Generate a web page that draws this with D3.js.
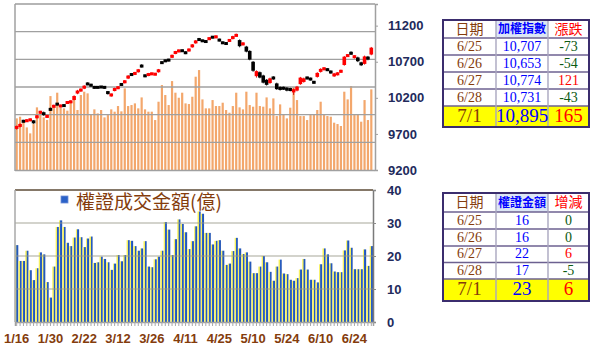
<!DOCTYPE html>
<html>
<head>
<meta charset="utf-8">
<script src="https://cdn.jsdelivr.net/npm/d3@7/dist/d3.min.js"></script>
<style>
  body { margin: 0; background: #fff; }
  svg { display: block; }
</style>
</head>
<body>
<svg id="chart" width="598" height="351"></svg>
<script>
// trading days 1/16 - 7/1
const dates = [
  '1/16','1/17','1/18','1/21','1/22','1/23','1/24','1/25','1/28','1/29','1/30',
  '2/11','2/12','2/13','2/14','2/15','2/18','2/19','2/20','2/21','2/22','2/25','2/26','2/27',
  '3/4','3/5','3/6','3/7','3/8','3/11','3/12','3/13','3/14','3/15','3/18','3/19','3/20','3/21','3/22','3/25','3/26','3/27','3/28','3/29',
  '4/1','4/2','4/3','4/8','4/9','4/10','4/11','4/12','4/15','4/16','4/17','4/18','4/19','4/22','4/23','4/24','4/25','4/26','4/29','4/30',
  '5/2','5/3','5/6','5/7','5/8','5/9','5/10','5/13','5/14','5/15','5/16','5/17','5/20','5/21','5/22','5/23','5/24','5/27','5/28','5/29','5/30','5/31',
  '6/3','6/4','6/5','6/6','6/10','6/11','6/12','6/13','6/14','6/17','6/18','6/19','6/20','6/21','6/24','6/25','6/26','6/27','6/28',
  '7/1'
];
const tickLabels = ['1/16','1/30','2/22','3/12','3/26','4/11','4/25','5/10','5/24','6/10','6/24'];

// TAIEX candles
const opens = [
  9775,9800,9880,9870,9890,9880,9925,9990,10000,9935,
  10050,10070,10120,10080,10100,10125,10135,10170,10260,10295,
  10330,10400,10385,10355,10350,10355,10350,10285,10230,10300,
  10330,10395,10410,10470,10530,10525,10560,10650,10515,10510,
  10525,10520,10560,10695,10720,10730,10760,10815,10840,10860,
  10835,10850,10905,10960,11015,10995,10990,11010,11045,11035,
  11010,10970,10960,10985,11020,11055,11000,10935,10910,10850,
  10700,10500,10555,10510,10450,10405,10490,10400,10350,10345,
  10340,10330,10275,10300,10390,10420,10485,10470,10425,10490,
  10560,10590,10600,10570,10500,10520,10555,10655,10775,10830,
  10760,10760,10690,10670,10770,10800
];
const highs = [
  9815,9845,9895,9905,9915,9890,9960,10020,10010,9965,
  10065,10105,10130,10105,10110,10155,10165,10235,10310,10330,
  10375,10415,10395,10365,10360,10365,10360,10295,10260,10340,
  10360,10405,10445,10515,10540,10560,10600,10665,10525,10545,
  10550,10545,10600,10705,10730,10740,10800,10850,10870,10870,
  10845,10885,10945,11000,11030,11005,11000,11040,11055,11065,
  11020,10980,10970,11015,11060,11090,11010,10970,10920,10860,
  10710,10580,10565,10520,10460,10480,10500,10410,10360,10355,
  10350,10340,10330,10365,10490,10480,10495,10480,10435,10555,
  10610,10625,10610,10580,10545,10555,10590,10780,10805,10845,
  10790,10770,10700,10785,10780,10905
];
const lows = [
  9760,9790,9860,9865,9875,9840,9915,9980,9950,9925,
  10020,10060,10095,10070,10075,10115,10125,10165,10250,10285,
  10320,10375,10355,10325,10330,10335,10325,10245,10215,10290,
  10320,10365,10400,10460,10505,10515,10550,10620,10485,10500,
  10515,10510,10550,10670,10695,10705,10750,10805,10830,10835,
  10805,10840,10895,10950,10990,10975,10960,11000,11025,11025,
  10980,10945,10935,10975,11010,11045,10900,10925,10830,10720,
  10560,10480,10470,10400,10370,10395,10450,10310,10300,10310,
  10290,10290,10240,10290,10380,10410,10455,10440,10395,10480,
  10550,10580,10570,10535,10490,10510,10545,10645,10765,10795,
  10745,10695,10640,10660,10720,10790
];
const closes = [
  9805,9835,9870,9895,9900,9855,9950,10010,9960,9950,
  10030,10095,10105,10095,10085,10145,10155,10225,10300,10320,
  10365,10385,10365,10335,10340,10345,10340,10260,10250,10330,
  10350,10375,10435,10505,10515,10550,10590,10630,10495,10535,
  10540,10535,10590,10680,10705,10715,10790,10840,10860,10845,
  10815,10875,10935,10990,11000,10985,10970,11030,11035,11055,
  10990,10955,10945,11005,11050,11075,10915,10960,10840,10730,
  10575,10570,10480,10410,10380,10470,10460,10320,10310,10320,
  10300,10300,10320,10355,10480,10470,10465,10450,10405,10545,
  10600,10615,10580,10545,10535,10545,10580,10770,10795,10805,
  10780,10707,10653,10774,10731,10895
];

// market turnover (left hidden axis)
const turnover = [
  933,963,903,770,662,830,1132,1023,951,903,
  1336,1132,1397,1132,1114,1072,1234,1264,1084,1355,
  1415,1385,1011,1096,1023,1084,951,993,1096,1054,
  1156,1060,1475,1156,1174,1204,1114,1312,1096,1054,
  1054,903,1234,1535,1355,1174,1607,1397,1306,1397,
  1204,1192,1324,1686,1806,1276,1114,1114,1264,1156,
  1156,1216,1084,1035,1156,1397,1132,1096,1415,1174,
  1144,1397,1156,1144,1312,1114,1294,975,1186,1011,
  933,1126,1500,1264,975,975,903,993,993,1084,
  1234,993,975,963,855,831,795,1415,1276,1517,
  993,1005,873,1264,903,1457
];

// warrant turnover (億)
const warrant = [
  23.3,18.5,18.5,21.6,15.7,12.7,16.3,21.1,20.5,12.1,
  7.4,16.8,28.8,30.8,28.8,24.0,23.0,25.6,28.1,25.7,
  22.7,25.3,25.9,17.9,18.1,19.8,19.1,18.1,15.8,17.7,
  20.3,18.4,20.3,24.8,24.6,23.0,21.6,22.3,24.5,16.8,
  16.6,19.0,19.8,21.6,30.3,28.0,20.3,25.1,31.1,29.7,
  27.2,22.1,24.5,29.0,33.5,32.8,27.0,27.0,23.5,24.6,
  24.8,21.6,17.3,17.7,21.5,25.5,22.3,20.6,21.1,18.3,
  14.8,14.8,16.8,20.0,18.1,15.2,12.5,16.8,18.9,14.7,
  14.5,12.8,12.5,13.3,15.9,19.1,15.9,12.8,12.8,12.0,
  17.5,22.3,20.5,17.8,15.3,15.1,15.1,21.7,24.7,22.5,
  16,16,16,22,17,23
];

const priceTicks = [9200, 9700, 10200, 10700, 11200];
const turnoverGrid = [500, 1000, 1500, 2000, 2500];
const warrantTicks = [0, 10, 20, 30, 40];

// tables
const tblDates = ['6/25', '6/26', '6/27', '6/28', '7/1'];
const idxValues = [10707, 10653, 10774, 10731, 10895];
const idxChanges = [-73, -54, 121, -43, 165];
const warValues = [16, 16, 22, 17, 23];
const warChanges = [0, 0, 6, -5, 6];

const NAVY = '#222a5c';
const BROWN = '#843c0c';
const GRID = '#a0a0a0';
const LABEL_FONT = '"Liberation Sans", Arial, sans-serif';
const CJK_FONT = '"Noto Sans CJK TC", "Noto Sans CJK SC", sans-serif';
const SERIF = '"Liberation Serif", "Times New Roman", serif';

const svg = d3.select('#chart');

const x = d3.scaleBand().domain(dates).range([15, 373]).padding(0);
const bw = x.bandwidth();
const cx = d => x(d) + bw / 2;

const yPrice = d3.scaleLinear().domain([9200, 11500]).range([170, 4]);
const yVol = d3.scaleLinear().domain([0, 3000]).range([170, 4]);
const yWar = d3.scaleLinear().domain([0, 40]).range([322, 190]);

// gradient for warrant bars
const defs = svg.append('defs');
const grad = defs.append('linearGradient').attr('id', 'warGrad')
  .attr('x1', '0%').attr('x2', '100%').attr('y1', '0%').attr('y2', '0%');
grad.append('stop').attr('offset', '0%').attr('stop-color', '#fbf36a');
grad.append('stop').attr('offset', '38%').attr('stop-color', '#f2ee5a');
grad.append('stop').attr('offset', '46%').attr('stop-color', '#2b62c8');
grad.append('stop').attr('offset', '100%').attr('stop-color', '#1d4fb0');

// ---------- upper panel ----------
const upper = svg.append('g');

upper.selectAll('.vol')
  .data(dates)
  .enter().append('rect')
  .attr('class', 'vol')
  .attr('x', d => cx(d) - 1.1)
  .attr('width', 2.2)
  .attr('y', (d, i) => yVol(turnover[i]))
  .attr('height', (d, i) => yVol(0) - yVol(turnover[i]))
  .attr('fill', '#f3a76c');

upper.selectAll('.grid')
  .data(turnoverGrid)
  .enter().append('line')
  .attr('x1', 15).attr('x2', 375)
  .attr('y1', d => yVol(d)).attr('y2', d => yVol(d))
  .attr('stroke', GRID).attr('stroke-width', 1.4);

// frame
upper.append('line').attr('x1', 15).attr('x2', 375).attr('y1', 4).attr('y2', 4)
  .attr('stroke', '#b5b5b5').attr('stroke-width', 2);
upper.append('line').attr('x1', 15).attr('x2', 15).attr('y1', 4).attr('y2', 171)
  .attr('stroke', '#a0a0a0').attr('stroke-width', 1.5);
upper.append('line').attr('x1', 15).attr('x2', 375).attr('y1', 170.5).attr('y2', 170.5)
  .attr('stroke', '#a0a0a0').attr('stroke-width', 1.5);

// candles
upper.selectAll('.wick')
  .data(dates)
  .enter().append('line')
  .attr('class', 'wick')
  .attr('x1', d => cx(d)).attr('x2', d => cx(d))
  .attr('y1', (d, i) => yPrice(highs[i]))
  .attr('y2', (d, i) => yPrice(lows[i]))
  .attr('stroke', (d, i) => closes[i] >= opens[i] ? '#d00000' : '#111')
  .attr('stroke-width', 0.9);

upper.selectAll('.body')
  .data(dates)
  .enter().append('rect')
  .attr('class', 'body')
  .attr('x', d => cx(d) - 1.8)
  .attr('width', 3.6)
  .attr('y', (d, i) => {
    const h = Math.abs(yPrice(opens[i]) - yPrice(closes[i]));
    const mid = (yPrice(opens[i]) + yPrice(closes[i])) / 2;
    return mid - Math.max(3, h) / 2;
  })
  .attr('height', (d, i) => Math.max(3, Math.abs(yPrice(opens[i]) - yPrice(closes[i]))))
  .attr('fill', (d, i) => closes[i] >= opens[i] ? '#ff0000' : '#000');

const priceAxis = upper.append('g')
  .attr('transform', 'translate(375,0)')
  .call(d3.axisRight(yPrice).tickValues(priceTicks).tickSize(3).tickPadding(10).tickFormat(d3.format('d')));
priceAxis.select('.domain').attr('stroke', '#a0a0a0').attr('stroke-width', 1.5);
priceAxis.selectAll('line').attr('stroke', '#a0a0a0');
priceAxis.selectAll('text')
  .style('font-family', LABEL_FONT).style('font-size', '13px')
  .style('font-weight', 'bold').attr('fill', NAVY);

// ---------- lower panel ----------
const lower = svg.append('g');

lower.selectAll('.war')
  .data(dates)
  .enter().append('rect')
  .attr('class', 'war')
  .attr('x', d => cx(d) - 1.6)
  .attr('width', 3.2)
  .attr('y', (d, i) => yWar(warrant[i]))
  .attr('height', (d, i) => yWar(0) - yWar(warrant[i]))
  .attr('fill', 'url(#warGrad)');

lower.selectAll('.wgrid')
  .data([10, 20, 30])
  .enter().append('line')
  .attr('x1', 15).attr('x2', 373)
  .attr('y1', d => yWar(d)).attr('y2', d => yWar(d))
  .attr('stroke', '#9a9a8a').attr('stroke-width', 1.1).attr('opacity', 0.85);

lower.append('line').attr('x1', 15).attr('x2', 373).attr('y1', 190).attr('y2', 190)
  .attr('stroke', '#857868').attr('stroke-width', 2);
lower.append('line').attr('x1', 15).attr('x2', 15).attr('y1', 190).attr('y2', 322)
  .attr('stroke', '#a8a8a8').attr('stroke-width', 1.5);

const warAxis = lower.append('g')
  .attr('transform', 'translate(373,0)')
  .call(d3.axisRight(yWar).tickValues(warrantTicks).tickSize(3).tickPadding(11));
warAxis.select('.domain').attr('stroke', '#7a7a7a').attr('stroke-width', 1.5);
warAxis.selectAll('line').attr('stroke', '#8a8a8a');
warAxis.selectAll('text')
  .style('font-family', LABEL_FONT).style('font-size', '13px')
  .style('font-weight', 'bold').attr('fill', NAVY);

// date axis: tick for every bar, labels every 10 days
const dayTicks = lower.append('g')
  .attr('transform', 'translate(0,322)')
  .call(d3.axisBottom(x).tickSize(4).tickFormat(''));
dayTicks.select('.domain').attr('stroke', '#a0a0a0').attr('stroke-width', 1.5);
dayTicks.selectAll('line').attr('stroke', '#a8a8a8');

const dateAxis = lower.append('g')
  .attr('transform', 'translate(0,322)')
  .call(d3.axisBottom(x).tickValues(tickLabels).tickSize(0).tickPadding(12));
dateAxis.select('.domain').remove();
dateAxis.selectAll('text')
  .style('font-family', LABEL_FONT).style('font-size', '13px')
  .style('font-weight', 'bold').attr('fill', BROWN);

// legend
lower.append('rect').attr('x', 61).attr('y', 196).attr('width', 7).attr('height', 7)
  .attr('fill', '#2b62c8').attr('stroke', '#6f8fd8').attr('stroke-width', 0.8);
lower.append('text').attr('x', 76).attr('y', 209)
  .style('font-family', CJK_FONT).style('font-size', '19px')
  .attr('fill', BROWN)
  .text('權證成交金額(億)');

// ---------- tables ----------
const colX = [443, 496, 548, 589];

function drawTable(rowY, headers, headerColors, values, changes) {
  const g = svg.append('g');
  const rows = tblDates.length;

  // header blue cell + yellow last row
  g.append('rect').attr('x', colX[1]).attr('y', rowY[0])
    .attr('width', colX[2] - colX[1]).attr('height', rowY[1] - rowY[0])
    .attr('fill', '#dce6f4');
  g.append('rect').attr('x', colX[0]).attr('y', rowY[rows])
    .attr('width', colX[3] - colX[0]).attr('height', rowY[rows + 1] - rowY[rows])
    .attr('fill', '#ffff00');

  // inner lines
  g.selectAll('.hl')
    .data(rowY.slice(1, -1))
    .enter().append('line')
    .attr('x1', colX[0]).attr('x2', colX[3])
    .attr('y1', d => d).attr('y2', d => d)
    .attr('stroke', '#6c6090').attr('stroke-width', 1.4);
  g.selectAll('.vl')
    .data(colX.slice(1, -1))
    .enter().append('line')
    .attr('x1', d => d).attr('x2', d => d)
    .attr('y1', rowY[0]).attr('y2', rowY[rowY.length - 1])
    .attr('stroke', '#a9a6bf').attr('stroke-width', 1.4);
  g.append('rect').attr('x', colX[0]).attr('y', rowY[0])
    .attr('width', colX[3] - colX[0]).attr('height', rowY[rowY.length - 1] - rowY[0])
    .attr('fill', 'none').attr('stroke', '#3b2d6e').attr('stroke-width', 2);

  // header text
  headers.forEach((h, j) => {
    g.append('text')
      .attr('x', (colX[j] + colX[j + 1]) / 2)
      .attr('y', (rowY[0] + rowY[1]) / 2 + 1)
      .attr('text-anchor', 'middle').attr('dominant-baseline', 'middle')
      .style('font-family', CJK_FONT)
      .style('font-size', j === 1 ? '12px' : '14px')
      .style('font-weight', j === 1 ? 'bold' : 'normal')
      .attr('fill', headerColors[j])
      .text(h);
  });

  // body rows
  for (let r = 0; r < rows; r++) {
    const last = r === rows - 1;
    const yMid = (rowY[r + 1] + rowY[r + 2]) / 2 + 1;
    const size = last ? '19px' : '14px';
    const cells = [
      { t: tblDates[r], c: BROWN },
      { t: d3.format(',')(values[r]), c: '#0000ff' },
      { t: String(changes[r]), c: changes[r] > 0 ? '#ff0000' : '#0b5a12' }
    ];
    cells.forEach((cell, j) => {
      g.append('text')
        .attr('x', (colX[j] + colX[j + 1]) / 2)
        .attr('y', yMid)
        .attr('text-anchor', 'middle').attr('dominant-baseline', 'middle')
        .style('font-family', SERIF).style('font-size', size)
        .attr('fill', cell.c)
        .text(cell.t);
    });
  }
}

drawTable([20, 38, 55, 72, 89, 106, 127],
  ['日期', '加權指數', '漲跌'], [BROWN, '#0000ff', '#ff0000'],
  idxValues, idxChanges);

drawTable([193, 212, 229, 246, 262.5, 279, 301],
  ['日期', '權證金額', '增減'], [BROWN, '#0000ff', '#ff0000'],
  warValues, warChanges);
</script>
</body>
</html>
